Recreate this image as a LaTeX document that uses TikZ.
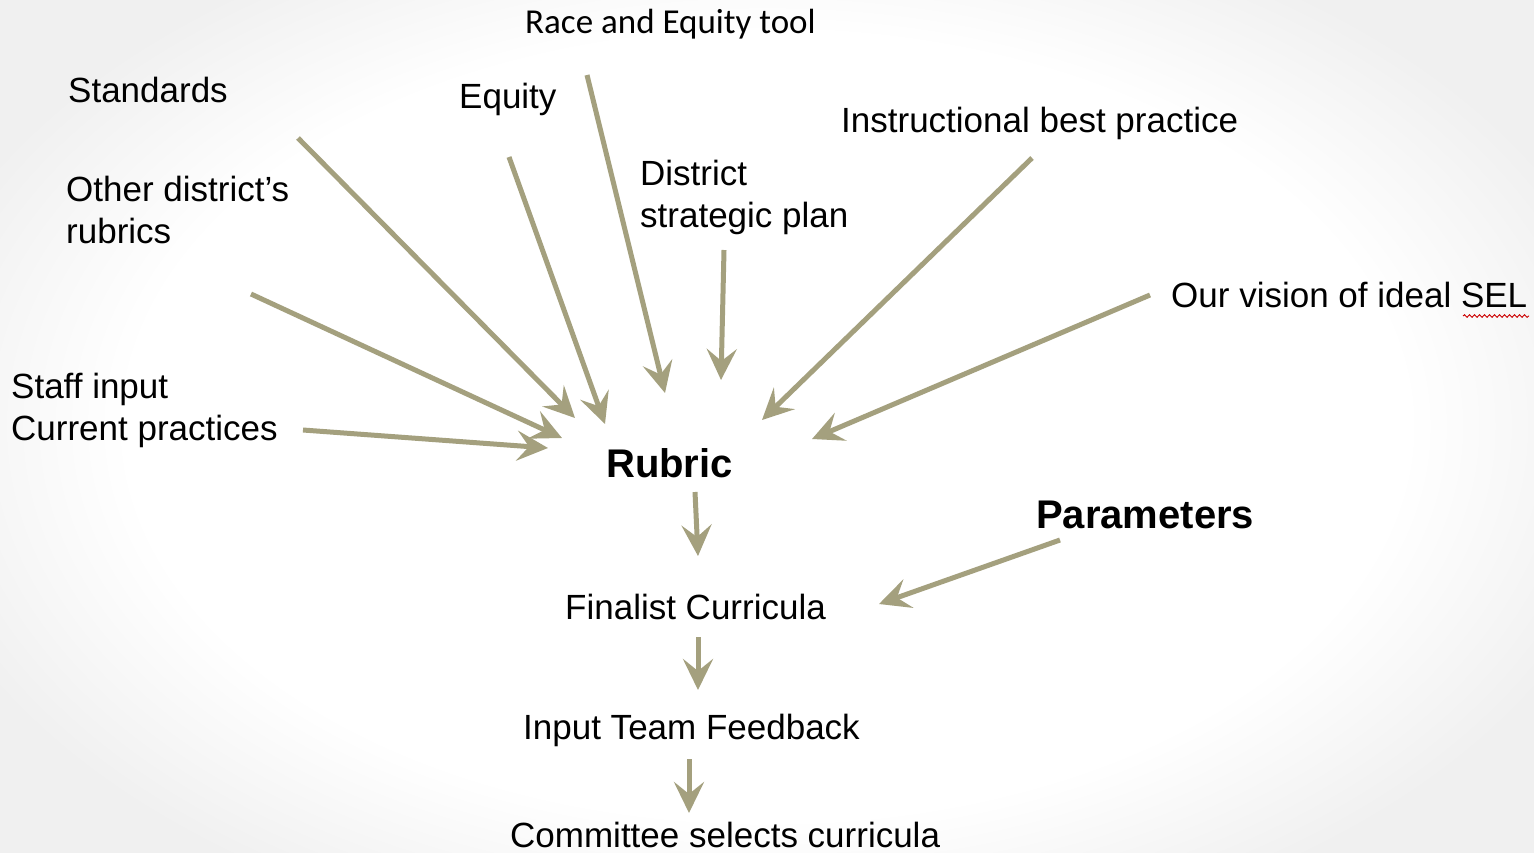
\documentclass[tikz,border=0pt]{standalone}
\usepackage{fontspec}
\setmainfont{Liberation Sans}
\newfontfamily\calib{Carlito}
\usetikzlibrary{arrows.meta,decorations.pathmorphing}
\definecolor{arrowtan}{RGB}{164,160,126}
\pgfdeclareradialshading{vign}{\pgfpoint{0bp}{0bp}}{color(0bp)=(white); color(18bp)=(white); color(25bp)=(black!6); color(50bp)=(black!6)}
\tikzset{
  lbl/.style={anchor=base west, inner sep=0pt, align=left, font=\fontsize{35}{42}\selectfont},
  bold/.style={lbl, font=\fontsize{40}{48}\selectfont\bfseries},
  flow/.style={draw=arrowtan, line width=5pt, -{Stealth[length=31pt,width=30pt,inset=12pt]}},
}
\begin{document}
\begin{tikzpicture}[x=1pt,y=-1pt]
\useasboundingbox (0,0) rectangle (1534,852);
\shade[shading=vign] (-120,-120) rectangle (1654,972);
% labels
\node[lbl, font=\calib\fontsize{35}{42}\selectfont] (race) at (525,33) {Race and Equity tool};
\node[lbl] (std) at (68,102) {Standards};
\node[lbl] (eq) at (459,108) {Equity};
\node[lbl] (inst) at (841,132) {Instructional best practice};
\node[lbl] (other) at (66,243) {Other district’s\\rubrics};
\node[lbl] (dist) at (640,227) {District\\strategic plan};
\node[lbl] (sel) at (1171,307) {Our vision of ideal SEL};
\node[lbl] (staff) at (11,440) {Staff input\\Current practices};
\node[bold] (rub) at (606,477) {Rubric};
\node[bold] (par) at (1036,528) {Parameters};
\node[lbl] (fin) at (565,619) {Finalist Curricula};
\node[lbl] (inp) at (523,739) {Input Team Feedback};
\node[lbl] (com) at (510,847) {Committee selects curricula};
% spell-check squiggle
\draw[red!80!black, line width=0.9pt, decoration={snake, amplitude=1.3pt, segment length=5pt}, decorate] (1463,316) -- (1529,316);
% connector end points
\coordinate (s1) at (298,138);  \coordinate (e1) at (575,418);
\coordinate (s2) at (251,294);  \coordinate (e2) at (562,438);
\coordinate (s3) at (303,430);  \coordinate (e3) at (548,448);
\coordinate (s4) at (509,157);  \coordinate (e4) at (605,424);
\coordinate (s5) at (587,75);   \coordinate (e5) at (665,393);
\coordinate (s6) at (724,250);  \coordinate (e6) at (721,380);
\coordinate (s7) at (1032,158); \coordinate (e7) at (762,420);
\coordinate (s8) at (1150,295); \coordinate (e8) at (812,439);
\coordinate (s9) at (695,492);  \coordinate (e9) at (698,556);
\coordinate (s10) at (1060,540);\coordinate (e10) at (879,604);
\coordinate (s11) at (698,637); \coordinate (e11) at (698,690);
\coordinate (s12) at (689,759); \coordinate (e12) at (689,813);
\foreach \i in {1,...,12} { \draw[flow] (s\i) -- (e\i); }
\end{tikzpicture}
\end{document}
